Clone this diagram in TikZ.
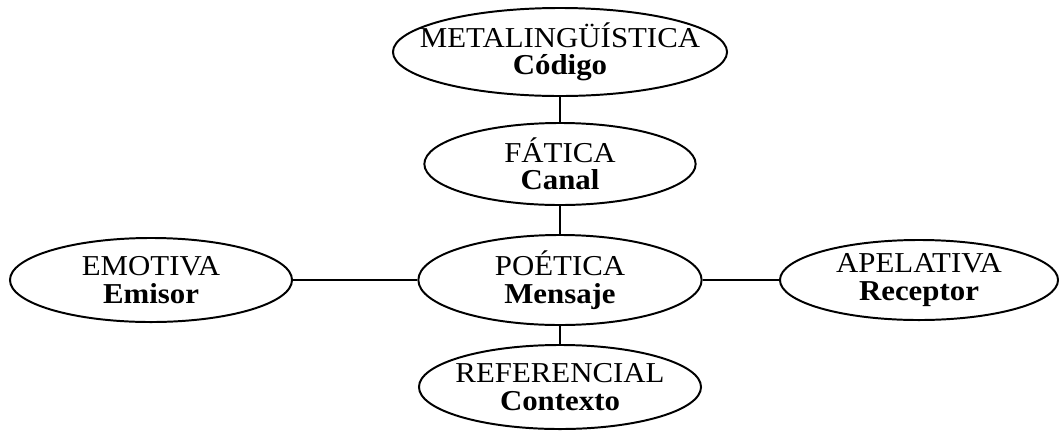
\documentclass[tikz,border=0pt]{standalone}
\usepackage{fontspec}
\setmainfont{Liberation Serif}[FakeStretch=1.07]
\usepackage{tikz}
\usetikzlibrary{shapes.geometric}

\begin{document}
\begin{tikzpicture}[x=0.025cm,y=-0.025cm]

\tikzset{funcion/.style={ellipse,draw,line width=1.4pt,inner xsep=-24pt,inner ysep=0pt,
    align=center,font=\fontsize{20.5}{19.5}\selectfont},
  enlace/.style={line width=1.4pt}}

\useasboundingbox (0,0) rectangle (1059,430);

\node[funcion,minimum width=8.35cm,minimum height=2.2cm] (meta) at (560,52) {METALINGÜÍSTICA\\\textbf{Código}};
\node[funcion,minimum width=6.78cm,minimum height=2.05cm] (fatica) at (560,164) {FÁTICA\\\textbf{Canal}};
\node[funcion,minimum width=7.08cm,minimum height=2.25cm] (poetica) at (560,280) {POÉTICA\\\textbf{Mensaje}};
\node[funcion,minimum width=7.05cm,minimum height=2.1cm] (referencial) at (560,387) {REFERENCIAL\\\textbf{Contexto}};
\node[funcion,minimum width=7.05cm,minimum height=2.1cm] (emotiva) at (151,280) {EMOTIVA\\\textbf{Emisor}};
\node[funcion,minimum width=6.95cm,minimum height=2cm] (apelativa) at (919,280) {APELATIVA\\\textbf{Receptor}};

\draw[enlace] (meta.south) -- (fatica.north);
\draw[enlace] (fatica.south) -- (poetica.north);
\draw[enlace] (poetica.south) -- (referencial.north);
\draw[enlace] (emotiva.east) -- (poetica.west);
\draw[enlace] (poetica.east) -- (apelativa.west);

\end{tikzpicture}
\end{document}
